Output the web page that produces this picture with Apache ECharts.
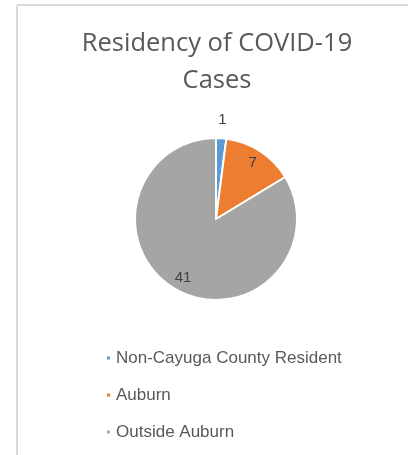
<!DOCTYPE html>
<html>
<head>
<meta charset="utf-8">
<script src="https://cdn.jsdelivr.net/npm/echarts@6/dist/echarts.min.js"></script>
<style>
html,body{margin:0;padding:0;background:#fff;}
#chart{width:408px;height:455px;}
</style>
</head>
<body>
<div id="chart"></div>
<script>
const titleText = 'Residency of COVID-19\nCases';
const categories = ['Non-Cayuga County Resident', 'Auburn', 'Outside Auburn'];
const values = [1, 7, 41];
const colors = ['#5b9bd5', '#ed7d31', '#a5a5a5'];

const chart = echarts.init(document.getElementById('chart'), null, {renderer: 'canvas'});

const pieData = categories.map((c, i) => ({name: c, value: values[i], itemStyle: {color: colors[i]}}));
const transparentItem = {color: 'rgba(0,0,0,0)', borderWidth: 0};
const labelStyle = {color: '#404040', fontSize: 15, fontFamily: 'Liberation Sans'};

const option = {
  animation: false,
  graphic: [
    {type: 'line', shape: {x1: 17, y1: 5, x2: 408, y2: 5}, style: {stroke: '#d9d9d9', lineWidth: 2}, silent: true},
    {type: 'line', shape: {x1: 17, y1: 5, x2: 17, y2: 455}, style: {stroke: '#d9d9d9', lineWidth: 2}, silent: true}
  ],
  title: {
    text: titleText,
    left: 217,
    textAlign: 'center',
    top: 25,
    padding: 0,
    textStyle: {fontFamily: 'Open Sans', fontSize: 25.5, fontWeight: 'normal', color: '#595959', lineHeight: 37}
  },
  legend: {
    orient: 'vertical',
    left: 100,
    top: 344,
    icon: 'rect',
    itemWidth: 5,
    itemHeight: 5,
    itemGap: 19,
    data: categories,
    textStyle: {fontFamily: 'Liberation Sans', fontSize: 17, color: '#595959', lineHeight: 18}
  },
  series: [
    {
      name: 'Residency',
      type: 'pie',
      center: [216, 219],
      radius: [0, 81],
      startAngle: 90,
      clockwise: true,
      avoidLabelOverlap: false,
      itemStyle: {borderColor: '#ffffff', borderWidth: 2},
      label: {show: false},
      labelLine: {show: false},
      emphasis: {disabled: true},
      data: pieData
    },
    {
      name: 'inner labels',
      type: 'pie',
      center: [216, 219],
      radius: [0, 128],
      startAngle: 90,
      clockwise: true,
      silent: true,
      avoidLabelOverlap: false,
      itemStyle: transparentItem,
      labelLine: {show: false},
      emphasis: {disabled: true},
      label: Object.assign({show: true, position: 'inside', formatter: '{c}'}, labelStyle),
      data: categories.map((c, i) => ({name: c, value: values[i], label: {show: i !== 0}}))
    },
    {
      name: 'outer labels',
      type: 'pie',
      center: [216, 219],
      radius: [0, 192],
      startAngle: 90,
      clockwise: true,
      silent: true,
      avoidLabelOverlap: false,
      itemStyle: transparentItem,
      labelLine: {show: false},
      emphasis: {disabled: true},
      label: Object.assign({show: true, position: 'inside', formatter: '{c}'}, labelStyle),
      data: categories.map((c, i) => ({name: c, value: values[i], label: {show: i === 0}}))
    }
  ]
};
chart.setOption(option);
</script>
</body>
</html>
